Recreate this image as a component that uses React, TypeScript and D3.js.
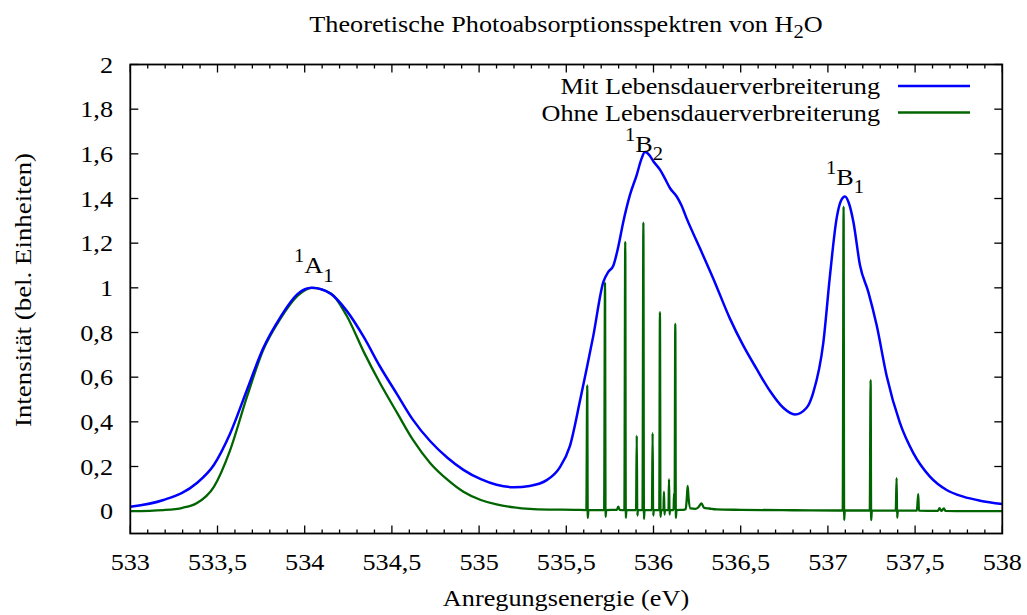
import React from 'react';
import * as d3 from 'd3';

// Mit Lebensdauerverbreiterung (energy eV, intensity)
const blueSpectrum: [number, number][] = [
  [533.00, 0.020], [533.19, 0.050], [533.38, 0.125], [533.48, 0.208], [533.57, 0.343],
  [533.67, 0.545], [533.76, 0.726], [533.86, 0.868], [533.96, 0.973], [534.04, 1.000],
  [534.15, 0.973], [534.24, 0.898], [534.34, 0.778], [534.43, 0.650], [534.53, 0.523],
  [534.62, 0.410], [534.72, 0.313], [534.82, 0.238], [534.91, 0.185], [535.01, 0.143],
  [535.10, 0.118], [535.20, 0.107], [535.29, 0.113], [535.39, 0.140], [535.46, 0.193],
  [535.52, 0.290], [535.58, 0.500], [535.62, 0.650], [535.655, 0.786], [535.712, 1.026],
  [535.74, 1.070], [535.77, 1.100], [535.798, 1.184], [535.827, 1.296], [535.865, 1.416],
  [535.904, 1.506], [535.93, 1.575], [535.951, 1.608], [535.975, 1.595], [535.999, 1.567],
  [536.037, 1.529], [536.065, 1.490], [536.095, 1.446], [536.133, 1.409], [536.16, 1.370],
  [536.19, 1.311], [536.267, 1.176], [536.343, 1.041], [536.439, 0.861], [536.515, 0.741],
  [536.592, 0.636], [536.668, 0.538], [536.744, 0.463], [536.811, 0.433], [536.878, 0.463],
  [536.916, 0.531], [536.974, 0.756], [537.012, 1.056], [537.05, 1.311], [537.075, 1.390],
  [537.098, 1.409], [537.12, 1.380], [537.146, 1.296], [537.184, 1.101], [537.232, 0.981],
  [537.28, 0.831], [537.337, 0.605], [537.413, 0.395], [537.49, 0.260], [537.585, 0.155],
  [537.681, 0.095], [537.776, 0.065], [537.872, 0.047], [538.0, 0.032],
];

// Ohne Lebensdauerverbreiterung (energy eV, intensity)
const greenSpectrum: [number, number][] = [
  [533.00, 0.000], [533.19, 0.005], [533.30, 0.015], [533.38, 0.035], [533.48, 0.110],
  [533.57, 0.268], [533.67, 0.515], [533.76, 0.718], [533.86, 0.861], [533.96, 0.965],
  [534.04, 1.000], [534.15, 0.975], [534.24, 0.876], [534.34, 0.711], [534.43, 0.576],
  [534.53, 0.440], [534.62, 0.320], [534.72, 0.215], [534.82, 0.140], [534.91, 0.087],
  [535.01, 0.050], [535.10, 0.030], [535.20, 0.017], [535.29, 0.010], [535.40, 0.007],
  [535.55, 0.006],
  [535.615, 0.005], [535.620, 0.563], [535.623, -0.03], [535.627, 0.005],
  [535.68, 0.005],
  [535.717, 0.005], [535.722, 1.023], [535.725, -0.025], [535.729, 0.005],
  [535.79, 0.006], [535.798, 0.020], [535.806, 0.006],
  [535.833, 0.005], [535.838, 1.206], [535.841, -0.03], [535.845, 0.005],
  [535.87, 0.005],
  [535.900, 0.005], [535.904, 0.338], [535.907, -0.02], [535.911, 0.005],
  [535.937, 0.005], [535.942, 1.292], [535.945, -0.035], [535.949, 0.005],
  [535.991, 0.005], [535.995, 0.350], [535.998, -0.02], [536.002, 0.005],
  [536.033, 0.005], [536.037, 0.891], [536.040, -0.025], [536.044, 0.005],
  [536.057, 0.005], [536.060, 0.087], [536.063, -0.015], [536.066, 0.005],
  [536.086, 0.005], [536.089, 0.143], [536.092, -0.015], [536.095, 0.005],
  [536.115, 0.005], [536.118, 0.080], [536.121, 0.010], [536.125, 0.838], [536.128, -0.03], [536.132, 0.005],
  [536.17, 0.006],
  [536.185, 0.010], [536.192, 0.070], [536.196, 0.113], [536.201, 0.060], [536.212, 0.012],
  [536.24, 0.010], [536.26, 0.020], [536.275, 0.035], [536.29, 0.015], [536.32, 0.012],
  [536.36, 0.008], [536.5, 0.006], [536.8, 0.004], [537.05, 0.003],
  [537.085, 0.003], [537.090, 1.364], [537.093, -0.04], [537.097, 0.003],
  [537.2, 0.003],
  [537.240, 0.003], [537.245, 0.587], [537.248, -0.04], [537.252, 0.002],
  [537.35, 0.002],
  [537.389, 0.002], [537.394, 0.148], [537.397, -0.03], [537.401, 0.002],
  [537.510, 0.002], [537.518, 0.076], [537.522, 0.002],
  [537.63, 0.001], [537.64, 0.013], [537.65, 0.001], [537.665, 0.012], [537.675, 0.001],
  [537.8, 0.0], [538.0, 0.0],
];

const xTickValues = [533, 533.5, 534, 534.5, 535, 535.5, 536, 536.5, 537, 537.5, 538];
const xTickLabels = ['533', '533,5', '534', '534,5', '535', '535,5', '536', '536,5', '537', '537,5', '538'];
const yTickValues = [0, 0.2, 0.4, 0.6, 0.8, 1, 1.2, 1.4, 1.6, 1.8, 2];
const yTickLabels = ['0', '0,2', '0,4', '0,6', '0,8', '1', '1,2', '1,4', '1,6', '1,8', '2'];

const seriesNames = ['Mit Lebensdauerverbreiterung', 'Ohne Lebensdauerverbreiterung'];
const seriesColors = ['#0000ff', '#006400'];

const FONT = "'Liberation Serif', 'Times New Roman', serif";
const FS = 23;
const SX = 1.14;

function T({ x, y, anchor = 'start', rot = 0, sx = SX, size = FS, children }: any) {
  return (
    <text
      transform={`translate(${x},${y}) rotate(${rot}) scale(${sx},1)`}
      textAnchor={anchor}
      style={{ fontFamily: FONT }}
      fontSize={size}
      fill="#000"
    >
      {children}
    </text>
  );
}

export default function App() {
  const W = 1027, H = 615;
  const L = 130.3, R = 1002.3, TOP = 64.5, B = 533.5;
  const x = d3.scaleLinear().domain([533, 538]).range([L, R]);
  const y = d3.scaleLinear().domain([-0.1, 2]).range([B, TOP]);
  const line = d3
    .line<[number, number]>()
    .x((d) => x(d[0]))
    .y((d) => y(d[1]))
    .curve(d3.curveMonotoneX);

  const minorX = x.ticks(50).filter((v) => !xTickValues.some((m) => Math.abs(m - v) < 1e-6));
  const major = 8, minor = 4;

  return (
    <svg width={W} height={H} style={{ position: 'absolute', left: 0, top: 0, background: '#fff' }}>
      <defs>
        <clipPath id="plotClip">
          <rect x={L} y={TOP} width={R - L} height={B - TOP} />
        </clipPath>
      </defs>
      <rect x={0} y={0} width={W} height={H} fill="#fff" />

      {/* ticks */}
      <g stroke="#000" strokeWidth={1.3}>
        {xTickValues.map((v) => (
          <g key={'xm' + v}>
            <line x1={x(v)} x2={x(v)} y1={B} y2={B - major} />
            <line x1={x(v)} x2={x(v)} y1={TOP} y2={TOP + major} />
          </g>
        ))}
        {minorX.map((v) => (
          <g key={'xn' + v}>
            <line x1={x(v)} x2={x(v)} y1={B} y2={B - minor} />
            <line x1={x(v)} x2={x(v)} y1={TOP} y2={TOP + minor} />
          </g>
        ))}
        {yTickValues.map((v) => (
          <g key={'ym' + v}>
            <line x1={L} x2={L + major} y1={y(v)} y2={y(v)} />
            <line x1={R} x2={R - major} y1={y(v)} y2={y(v)} />
          </g>
        ))}
      </g>

      {/* tick labels */}
      {xTickValues.map((v, i) => (
        <T key={'xl' + v} x={x(v)} y={570} anchor="middle">{xTickLabels[i]}</T>
      ))}
      {yTickValues.map((v, i) => (
        <T key={'yl' + v} x={113} y={y(v) + 8} anchor="end">{yTickLabels[i]}</T>
      ))}

      {/* curves */}
      <g clipPath="url(#plotClip)" fill="none" strokeLinejoin="round">
        <path d={line(greenSpectrum) || ''} stroke={seriesColors[1]} strokeWidth={2.3} />
        <path d={line(blueSpectrum) || ''} stroke={seriesColors[0]} strokeWidth={2.5} />
      </g>

      {/* border */}
      <rect x={L} y={TOP} width={R - L} height={B - TOP} fill="none" stroke="#000" strokeWidth={1.8} />

      {/* legend */}
      {seriesNames.map((n, i) => (
        <g key={n}>
          <T x={880} y={94 + i * 26.5} anchor="end">{n}</T>
          <line x1={898} x2={970} y1={86 + i * 26.5} y2={86 + i * 26.5} stroke={seriesColors[i]} strokeWidth={2.3} />
        </g>
      ))}

      {/* peak labels */}
      <T x={294} y={273}>
        <tspan fontSize={18} dy={-11}>1</tspan>
        <tspan dy={11}>A</tspan>
        <tspan fontSize={18} dy={9}>1</tspan>
      </T>
      <T x={625} y={152}>
        <tspan fontSize={18} dy={-11}>1</tspan>
        <tspan dy={11}>B</tspan>
        <tspan fontSize={18} dy={8}>2</tspan>
      </T>
      <T x={826} y={185}>
        <tspan fontSize={18} dy={-11}>1</tspan>
        <tspan dy={11}>B</tspan>
        <tspan fontSize={18} dy={8}>1</tspan>
      </T>

      {/* title */}
      <T x={566} y={32} anchor="middle">
        Theoretische Photoabsorptionsspektren von H<tspan fontSize={18} dy={6}>2</tspan><tspan dy={-6}>O</tspan>
      </T>

      {/* axis labels */}
      <T x={566} y={606} anchor="middle">Anregungsenergie (eV)</T>
      <T x={31} y={290} anchor="middle" rot={-90} sx={1.17}>Intensität (bel. Einheiten)</T>
    </svg>
  );
}
